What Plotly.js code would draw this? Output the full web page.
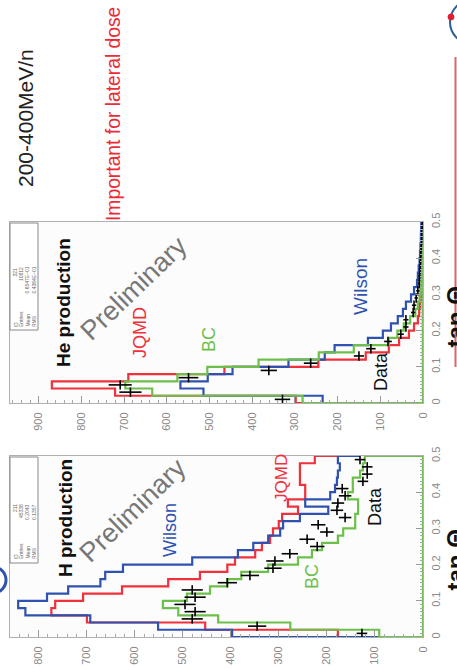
<!DOCTYPE html>
<html><head><meta charset="utf-8">
<script src="https://cdn.plot.ly/plotly-3.0.1.min.js"></script>
<style>html,body{margin:0;padding:0;background:#fff;overflow:hidden}#chart{width:457px;height:670px}</style>
</head><body><div id="chart"></div>
<script>
// ---- data ----
const binCenters = [0.01,0.03,0.05,0.07,0.09,0.11,0.13,0.15,0.17,0.19,0.21,0.23,0.25,0.27,0.29,0.31,0.33,0.35,0.37,0.39,0.41,0.43,0.45,0.47,0.49];
const binWidth = 0.02;

// H production
const H_wilson = [397,551,692,827,842,782,738,671,661,624,480,385,353,322,297,291,256,197,245,193,183,179,177,173,177];
const H_wilsonOver = 131;
const H_jqmd = [177,453,699,773,765,707,626,530,464,407,391,349,335,318,312,300,293,260,281,245,245,256,256,256,225];
const H_jqmdOver = 156;
const H_bc = [91,276,426,509,541,491,443,407,378,322,260,231,210,177,166,141,141,135,135,156,146,146,131,125,121];
const H_bcOver = 0;
const H_data = [127,345,480,474,495,474,480,407,360,312,308,277,220,241,200,218,162,179,177,162,168,125,116,116,131];
const H_dataErr = [11,19,22,22,22,22,22,20,19,18,18,17,15,16,14,15,13,13,13,13,13,11,11,11,11];

// He production
const He_wilson = [235,514,568,504,446,315,230,207,129,94,75,59,47,40,28,21,14,12,10,8,7,6,5,5,4];
const He_wilsonOver = 3;
const He_jqmd = [298,721,869,690,465,245,134,80,56,33,21,12,9,7,5,4,3,3,2,2,2,1,1,1,1];
const He_jqmdOver = 1;
const He_bc = [282,634,697,575,505,385,244,162,80,60,45,30,18,12,8,6,5,4,3,3,2,2,2,1,1];
const He_bcOver = 0;
const He_data = [329,685,709,549,361,263,150,122,82,52,40,40,23,21,16,12,9,8,7,6,5,4,3,3,2];
const He_dataErr = [18,26,27,23,19,16,12,11,9,7,6,6,5,5,4,4,3,3,3,3,2,2,2,2,2];

const statLabels = ["ID","Entries","Mean","RMS"];
const H_stats = ["211","45338","0.2043","0.1357"];
const He_stats = ["321","10812","0.6547E\u221201","0.4364E\u221201"];

// ---- helpers ----
const W = 457, Hh = 670;
const px = x => x / W;
const py = y => 1 - y / Hh;
const FONT = "Liberation Sans, Arial, sans-serif";
const BLUE = "#2f52b0", RED = "#f0303a", GREEN = "#6cc04a";

function stepPath(counts, over, closeAxis) {
  const xs = [0], ys = [0];
  for (let i = 0; i < counts.length; i++) {
    const lo = binCenters[i] - binWidth / 2, hi = binCenters[i] + binWidth / 2;
    xs.push(counts[i], counts[i]);
    ys.push(lo, hi);
  }
  const top = binCenters[binCenters.length - 1] + binWidth / 2;
  xs.push(over); ys.push(top);
  if (closeAxis) { xs.push(0); ys.push(0); }
  return {xs, ys};
}
function histTrace(counts, over, color, xa, ya, closeAxis) {
  const p = stepPath(counts, over, closeAxis);
  return {type:'scatter', mode:'lines', x:p.xs, y:p.ys, xaxis:xa, yaxis:ya,
    line:{color:color, width:2.2, shape:'linear'}, hoverinfo:'skip', showlegend:false};
}
function dataTrace(vals, errs, xa, ya) {
  return {type:'scatter', mode:'markers', x:vals, y:binCenters, xaxis:xa, yaxis:ya,
    marker:{size:1, color:'rgba(0,0,0,0)'},
    error_x:{type:'data', array:errs, visible:true, color:'#000', thickness:1.6, width:0},
    error_y:{type:'data', array:binCenters.map(()=>0.013), visible:true, color:'#000', thickness:1.6, width:0},
    showlegend:false, hoverinfo:'skip'};
}

const traces = [
  histTrace(H_jqmd, H_jqmdOver, RED, 'x', 'y', false),
  histTrace(H_wilson, H_wilsonOver, BLUE, 'x', 'y', false),
  histTrace(H_bc, H_bcOver, GREEN, 'x', 'y', true),
  dataTrace(H_data, H_dataErr, 'x', 'y'),
  histTrace(He_jqmd, He_jqmdOver, RED, 'x2', 'y2', false),
  histTrace(He_wilson, He_wilsonOver, BLUE, 'x2', 'y2', false),
  histTrace(He_bc, He_bcOver, GREEN, 'x2', 'y2', true),
  dataTrace(He_data, He_dataErr, 'x2', 'y2')
];

function countAxis(range, anchor) {
  return {domain:[px(10), px(423)], anchor:anchor, range:range, autorange:false,
    showgrid:false, zeroline:false, showline:true, linecolor:'#b0b0b0', linewidth:1, mirror:true,
    ticks:'inside', ticklen:7, tickcolor:'#999', tickwidth:1, dtick:100, tick0:0,
    tickangle:-90, ticklabelstandoff:4, tickfont:{family:FONT, size:11, color:'#8a8a8a'},
    minor:{ticks:'inside', ticklen:3.5, dtick:20, tickcolor:'#aaa', tickwidth:1}};
}
function tanAxis(domain, anchor) {
  return {domain:domain, anchor:anchor, side:'right', range:[0,0.5], autorange:false,
    showgrid:false, zeroline:false, showline:true, linecolor:'#b0b0b0', linewidth:1, mirror:true,
    ticks:'inside', ticklen:7, tickcolor:'#999', tickwidth:1, dtick:0.1, tick0:0,
    tickangle:-90, ticklabelstandoff:3, tickfont:{family:FONT, size:11, color:'#8a8a8a'},
    minor:{ticks:'inside', ticklen:3.5, dtick:0.01, tickcolor:'#aaa', tickwidth:1}};
}

function ann(text, x, y, size, color, opts) {
  return Object.assign({xref:'paper', yref:'paper', x:px(x), y:py(y), text:text, showarrow:false,
    textangle:-90, xanchor:'center', yanchor:'middle', font:{family:FONT, size:size, color:color}}, opts || {});
}

const annotations = [
  ann('<b>H production</b>', 65, 518, 19, '#111'),
  ann('<b>He production</b>', 64, 303, 19, '#111'),
  ann('Preliminary', 133, 510, 27, '#777', {textangle:-44}),
  ann('Preliminary', 134, 288, 27, '#777', {textangle:-44}),
  ann('Wilson', 170, 530, 18, BLUE),
  ann('JQMD', 281, 478, 17, RED),
  ann('BC', 312, 577, 18, GREEN),
  ann('Data', 375, 507, 18, '#111'),
  ann('JQMD', 140, 333, 18, RED),
  ann('BC', 209, 340, 18, GREEN),
  ann('Wilson', 361, 287, 19, BLUE),
  ann('Data', 381, 372, 18, '#111'),
  ann('200-400MeV/n', 26, 118, 21, '#222'),
  ann('Important for lateral dose', 114, 114, 19.3, '#ec2b36'),
  ann('<b>tan \u0398</b>', 439, 560, 24, '#111', {xanchor:'left'}),
  ann('<b>tan \u0398</b>', 439, 317, 24, '#111', {xanchor:'left'})
];

// stats boxes text
const statX = [15, 21, 27, 34];
function statAnns(values, labelBottom, valueTop) {
  const out = [];
  for (let i = 0; i < statLabels.length; i++) {
    out.push(ann(statLabels[i], statX[i], labelBottom, 5, '#666', {yanchor:'bottom'}));
    out.push(ann(values[i], statX[i], valueTop, 5, '#666', {yanchor:'top'}));
  }
  return out;
}
annotations.push(...statAnns(H_stats, 561, 502));
annotations.push(...statAnns(He_stats, 329, 265));

const shapes = [
  {type:'rect', xref:'paper', yref:'paper', x0:px(10), x1:px(38), y0:py(457), y1:py(563),
   line:{color:'#888', width:1}, fillcolor:'#fff', layer:'above'},
  {type:'rect', xref:'paper', yref:'paper', x0:px(10), x1:px(38), y0:py(223), y1:py(330),
   line:{color:'#888', width:1}, fillcolor:'#fff', layer:'above'},
  {type:'line', xref:'paper', yref:'paper', x0:px(455.5), x1:px(455.5), y0:py(57), y1:py(367),
   line:{color:'#e86060', width:2}},
  {type:'circle', xref:'paper', yref:'paper', x0:px(450), x1:px(494), y0:py(0), y1:py(44),
   line:{color:'#2a5f9a', width:2}},
  {type:'circle', xref:'paper', yref:'paper', x0:px(448), x1:px(454), y0:py(14), y1:py(20),
   line:{color:'#e02030', width:1}, fillcolor:'#e02030'},
  {type:'circle', xref:'paper', yref:'paper', x0:px(-20), x1:px(6), y0:py(567), y1:py(593),
   line:{color:'#2f52b0', width:3}}
];

const layout = {
  width:W, height:Hh, margin:{l:0, r:0, t:0, b:0}, paper_bgcolor:'#ffffff', plot_bgcolor:'#fcfcfc',
  showlegend:false,
  xaxis: countAxis([859, 0], 'y'),
  yaxis: tanAxis([py(637), py(456)], 'x'),
  xaxis2: countAxis([967, 0], 'y2'),
  yaxis2: tanAxis([py(403), py(222)], 'x2'),
  annotations: annotations, shapes: shapes
};
Plotly.newPlot('chart', traces, layout, {staticPlot:true, displayModeBar:false});
</script></body></html>
